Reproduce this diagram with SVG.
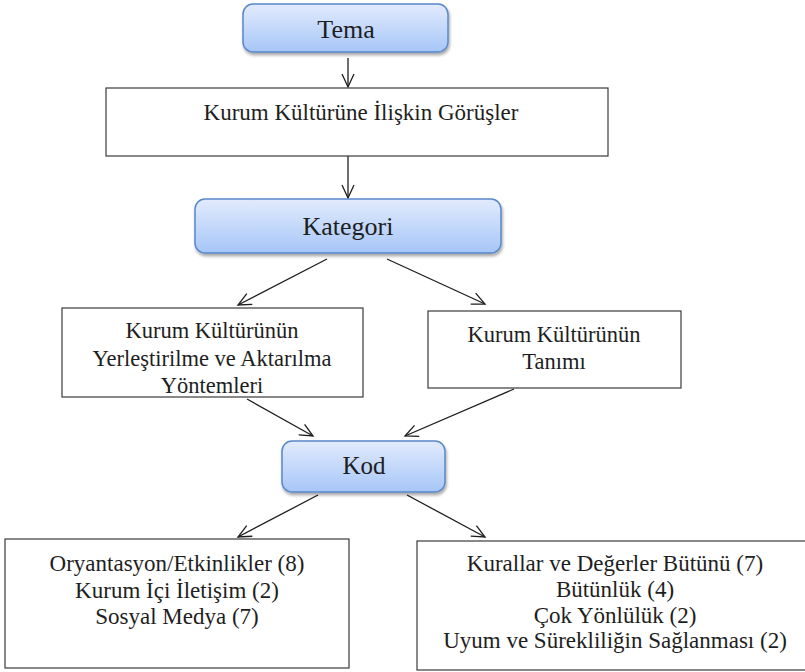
<svg xmlns="http://www.w3.org/2000/svg" width="805" height="672" viewBox="0 0 805 672">
<style>
.blue{fill:url(#bg);stroke:#5a88c8;stroke-width:1.5;filter:url(#sh)}
.box{fill:#fff;stroke:#3a3a3a;stroke-width:1.2}
.c{stroke:#1e1e1e;stroke-width:1.3;fill:none;marker-end:url(#ah)}
</style>
<defs>
<linearGradient id="bg" x1="0" y1="0" x2="0" y2="1">
<stop offset="0" stop-color="#e2ebfd"/>
<stop offset="1" stop-color="#a6c6f8"/>
</linearGradient>
<filter id="sh" x="-10%" y="-20%" width="120%" height="150%">
<feDropShadow dx="1" dy="2.5" stdDeviation="1.8" flood-color="#000" flood-opacity="0.35"/>
</filter>
<marker id="ah" markerWidth="16" markerHeight="16" refX="14" refY="7" orient="auto" markerUnits="userSpaceOnUse">
<path d="M1,1 L14,7 L1,13" fill="none" stroke="#1e1e1e" stroke-width="1.3"/>
</marker>
</defs>
<g id="connectors">
<line class="c" x1="348" y1="58" x2="348" y2="87"/>
<line class="c" x1="348" y1="156" x2="348" y2="198"/>
<line class="c" x1="327" y1="259" x2="238" y2="305"/>
<line class="c" x1="387" y1="259" x2="485" y2="304"/>
<line class="c" x1="247" y1="399" x2="313" y2="436"/>
<line class="c" x1="514" y1="389" x2="405" y2="436"/>
<line class="c" x1="318" y1="495" x2="238" y2="537"/>
<line class="c" x1="407" y1="495" x2="485" y2="537"/>
</g>
<g font-family="Liberation Serif, serif" fill="#1e1e1e" text-anchor="middle">
<g id="tema" font-size="26">
<rect class="blue" x="243" y="4" width="205" height="48" rx="10"/>
<text x="346" y="38">Tema</text>
</g>
<g id="kurum-kulturune" font-size="23">
<rect class="box" x="106" y="88" width="502" height="68"/>
<text x="361" y="120">Kurum Kültürüne İlişkin Görüşler</text>
</g>
<g id="kategori" font-size="26">
<rect class="blue" x="195" y="199" width="306" height="54" rx="10"/>
<text x="348" y="235">Kategori</text>
</g>
<g id="yerlestirilme" font-size="22.5">
<rect class="box" x="62" y="308" width="301" height="89"/>
<text x="212" y="338">Kurum Kültürünün</text>
<text x="212" y="366">Yerleştirilme ve Aktarılma</text>
<text x="212" y="393">Yöntemleri</text>
</g>
<g id="tanimi" font-size="22.5">
<rect class="box" x="428" y="311" width="253" height="77"/>
<text x="554" y="342">Kurum Kültürünün</text>
<text x="554" y="369">Tanımı</text>
</g>
<g id="kod" font-size="25">
<rect class="blue" x="282" y="441" width="163" height="51" rx="10"/>
<text x="364" y="474">Kod</text>
</g>
<g id="kod-sol" font-size="23">
<rect class="box" x="5" y="539" width="344" height="129"/>
<text x="177" y="571">Oryantasyon/Etkinlikler (8)</text>
<text x="177" y="598">Kurum İçi İletişim (2)</text>
<text x="177" y="624">Sosyal Medya (7)</text>
</g>
<g id="kod-sag" font-size="23">
<rect class="box" x="417" y="541" width="400" height="129"/>
<text x="615" y="571">Kurallar ve Değerler Bütünü (7)</text>
<text x="615" y="597">Bütünlük (4)</text>
<text x="615" y="623">Çok Yönlülük (2)</text>
<text x="615" y="648">Uyum ve Sürekliliğin Sağlanması (2)</text>
</g>
</g>
</svg>
